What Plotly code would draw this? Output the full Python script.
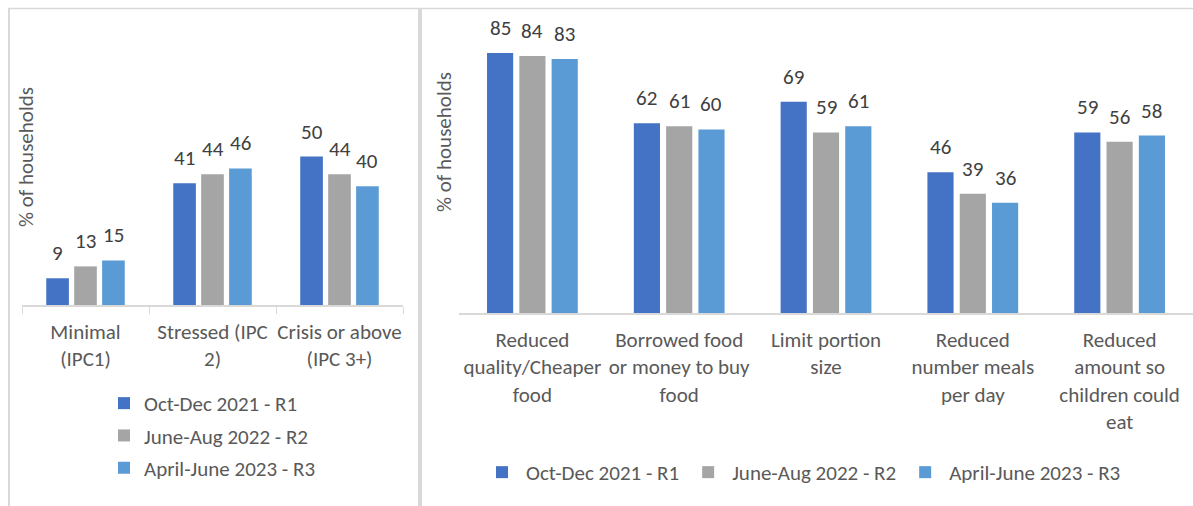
import plotly.graph_objects as go
from plotly.subplots import make_subplots

# ---- data -------------------------------------------------------------
series_names = ["Oct-Dec 2021 - R1", "June-Aug 2022 - R2", "April-June 2023 - R3"]
series_colors = ["#4472C4", "#A5A5A5", "#5B9BD5"]

ipc_categories = ["Minimal<br>(IPC1)", "Stressed (IPC<br>2)", "Crisis or above<br>(IPC 3+)"]
ipc_r1 = [9, 41, 50]
ipc_r2 = [13, 44, 44]
ipc_r3 = [15, 46, 40]

coping_categories = [
    "Reduced<br>quality/Cheaper<br>food",
    "Borrowed food<br>or money to buy<br>food",
    "Limit portion<br>size",
    "Reduced<br>number meals<br>per day",
    "Reduced<br>amount so<br>children could<br>eat",
]
coping_r1 = [85, 62, 69, 46, 59]
coping_r2 = [84, 61, 59, 39, 56]
coping_r3 = [83, 60, 61, 36, 58]

y_title = "% of households"

# ---- layout constants --------------------------------------------------
W, H = 1193, 506
FONT = "Calibri, Carlito, Lato, sans-serif"
FS = 21
LABEL_COLOR = "#595959"
VALUE_COLOR = "#404040"
GRID = "#D9D9D9"
BARGAP = 0.34
BARGROUPGAP = 0.19


def px_x(p):
    return p / W


def px_y(p):
    return 1 - p / H


left_x = (22, 403)
left_y = (8, 305)
right_x = (459, 1193)
right_y = (7, 313)

fig = make_subplots(rows=1, cols=2)

ipc_values = [ipc_r1, ipc_r2, ipc_r3]
coping_values = [coping_r1, coping_r2, coping_r3]

for i, name in enumerate(series_names):
    fig.add_trace(
        go.Bar(
            x=ipc_categories, y=ipc_values[i], name=name,
            marker=dict(color=series_colors[i], line=dict(width=0)),
            legend="legend", legendgroup=f"g{i}",
            hoverinfo="skip",
        ),
        row=1, col=1,
    )
for i, name in enumerate(series_names):
    fig.add_trace(
        go.Bar(
            x=coping_categories, y=coping_values[i], name=name,
            marker=dict(color=series_colors[i], line=dict(width=0)),
            legend="legend2",
            hoverinfo="skip",
        ),
        row=1, col=2,
    )

# value labels above each bar, shifted to the bar's slot inside its group
annotations = []
panels = [
    ("x", "y", ipc_categories, ipc_values, left_x),
    ("x2", "y2", coping_categories, coping_values, right_x),
]
for xref, yref, cats, vals, (x0, x1) in panels:
    cat_px = (x1 - x0) / len(cats)
    slot_px = cat_px * (1 - BARGAP) / len(series_names)
    for i, series in enumerate(vals):
        for c, v in zip(cats, series):
            annotations.append(dict(
                x=c, y=v, xref=xref, yref=yref, text=str(v),
                showarrow=False, yanchor="bottom", xanchor="center",
                xshift=(i - 1) * slot_px, yshift=10,
                font=dict(family=FONT, size=FS, color=VALUE_COLOR),
            ))

# axis titles
annotations.append(dict(
    x=px_x(26), y=px_y(157), xref="paper", yref="paper", text=y_title,
    textangle=-90, showarrow=False, xanchor="center", yanchor="middle",
    font=dict(family=FONT, size=FS, color=LABEL_COLOR),
))
annotations.append(dict(
    x=px_x(444), y=px_y(142), xref="paper", yref="paper", text=y_title,
    textangle=-90, showarrow=False, xanchor="center", yanchor="middle",
    font=dict(family=FONT, size=FS, color=LABEL_COLOR),
))

# panel frames
shapes = [
    dict(type="line", xref="paper", yref="paper",
         x0=px_x(8), x1=1, y0=px_y(8.5), y1=px_y(8.5),
         line=dict(color=GRID, width=1.5)),
    dict(type="line", xref="paper", yref="paper",
         x0=px_x(9), x1=px_x(9), y0=px_y(8), y1=0,
         line=dict(color=GRID, width=2)),
    dict(type="line", xref="paper", yref="paper",
         x0=px_x(420), x1=px_x(420), y0=px_y(8), y1=0,
         line=dict(color=GRID, width=4)),
]

fig.update_layout(
    width=W, height=H,
    margin=dict(l=0, r=0, t=0, b=0, autoexpand=False),
    paper_bgcolor="white", plot_bgcolor="white",
    barmode="group", bargap=BARGAP, bargroupgap=BARGROUPGAP,
    font=dict(family=FONT, size=FS, color=LABEL_COLOR),
    annotations=annotations,
    shapes=shapes,
    legend=dict(
        x=px_x(104), y=px_y(383), xanchor="left", yanchor="top",
        orientation="v", tracegroupgap=2,
        font=dict(family=FONT, size=FS, color=LABEL_COLOR),
        bgcolor="rgba(0,0,0,0)",
    ),
    legend2=dict(
        x=px_x(478), y=px_y(452), xanchor="left", yanchor="top",
        orientation="h", itemwidth=38,
        font=dict(family=FONT, size=FS, color=LABEL_COLOR),
        bgcolor="rgba(0,0,0,0)",
    ),
    showlegend=True,
)

fig.update_xaxes(
    domain=[px_x(left_x[0]), px_x(left_x[1])],
    showline=True, linecolor=GRID, linewidth=1.5,
    ticks="outside", tickson="boundaries", ticklen=7, tickcolor=GRID,
    tickfont=dict(family=FONT, size=FS, color=LABEL_COLOR),
    tickangle=0, automargin=False,
    ticklabelstandoff=7,
    showgrid=False, zeroline=False, fixedrange=True,
    row=1, col=1,
)
fig.update_xaxes(
    domain=[px_x(right_x[0]), px_x(right_x[1])],
    showline=True, linecolor=GRID, linewidth=1.5,
    ticks="",
    tickfont=dict(family=FONT, size=FS, color=LABEL_COLOR),
    tickangle=0, automargin=False,
    ticklabelstandoff=7,
    showgrid=False, zeroline=False, fixedrange=True,
    row=1, col=2,
)
fig.update_yaxes(
    domain=[px_y(left_y[1]), px_y(left_y[0])], range=[0, 100],
    visible=False, fixedrange=True, row=1, col=1,
)
fig.update_yaxes(
    domain=[px_y(right_y[1]), px_y(right_y[0])], range=[0, 100],
    visible=False, fixedrange=True, row=1, col=2,
)

fig.write_html("out.html", config={"displayModeBar": False})
